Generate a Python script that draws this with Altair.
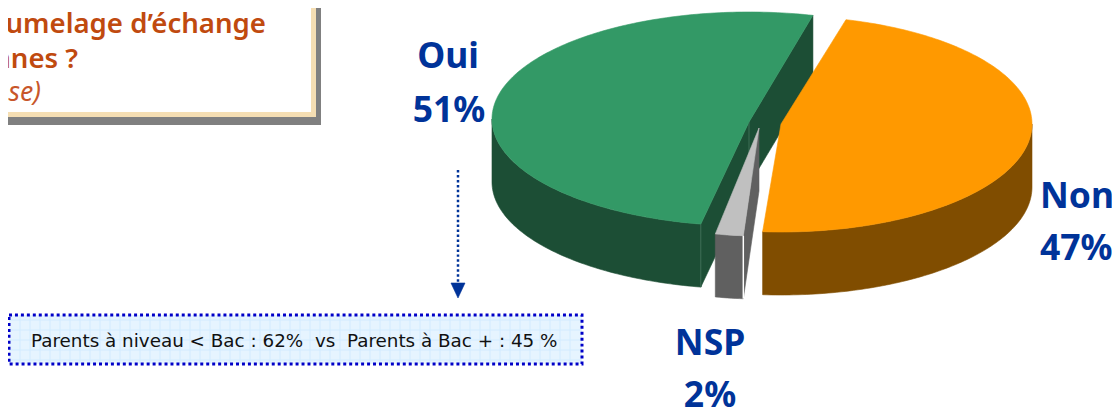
import math
import altair as alt
import pandas as pd

# --- values ---
labels = ["Non", "NSP", "Oui"]
shares = [47, 2, 51]
pct_text = ["47%", "2%", "51%"]
top_col = ["#FF9900", "#C0C0C0", "#339966"]
wall_col = ["#804D00", "#606060", "#1C4E35"]
start_deg = [15.0, 184.0, 190.8]          # clockwise from the top of the ellipse
centre_x = [781, 759, 749]
centre_y = [124, 128, 119]
radius_x = [251, 225, 257]
radius_y = [108, 108, 107]
apex_y = [124, 128, 122]
depth = 63

title_lines = ["umelage d\u2019\u00e9change", "nnes ?", "nse)"]
note_text = "Parents \u00e0 niveau < Bac : 62%\u00a0\u00a0vs\u00a0\u00a0Parents \u00e0 Bac + : 45 %"
grid_x = list(range(20, 580, 10))
grid_y = list(range(320, 364, 10))

BLUE = "#003399"
W, H = 1112, 404
K = 1104 / 1112          # the page shrinks the picture to the 1104px body
OX, OY = 8, 9.45
X = alt.X("x:Q", scale=alt.Scale(domain=[OX, OX + W * K], range=[0, W]), axis=None)
Y = alt.Y("y:Q", scale=alt.Scale(domain=[OY, OY + H * K], range=[0, H]), axis=None)
X2 = alt.X2("x2:Q")
Y2 = alt.Y2("y2:Q")


def pt(i, deg, drop=0):
    a = math.radians(deg)
    return (centre_x[i] + radius_x[i] * math.sin(a),
            centre_y[i] - radius_y[i] * math.cos(a) + drop)


def poly(points, fill, stroke=None, sw=0.6):
    df = pd.DataFrame({"x": [p[0] for p in points],
                       "y": [p[1] for p in points],
                       "i": list(range(len(points)))})
    return alt.Chart(df).mark_line(
        fill=fill, stroke=stroke or fill, strokeWidth=sw,
        interpolate="linear-closed", clip=False
    ).encode(x=X, y=Y, order="i:Q")


def span(i):
    return start_deg[i], start_deg[i] + shares[i] * 3.6


def arc(i, a, b, drop=0):
    n = max(2, int(abs(b - a)) + 1)
    return [pt(i, a + (b - a) * k / (n - 1), drop) for k in range(n)]


def top(i):
    a, b = span(i)
    return poly([(centre_x[i], apex_y[i])] + arc(i, a, b), top_col[i])


def wall(i):
    a, b = span(i)
    a2, b2 = max(a, 90), min(b, 270)
    return poly(arc(i, a2, b2) + arc(i, b2, a2, depth), wall_col[i])


def rect(x, x2, y, y2, fill, **kw):
    df = pd.DataFrame({"x": [x], "x2": [x2], "y": [y], "y2": [y2]})
    return alt.Chart(df).mark_rect(fill=fill, clip=False, **kw).encode(x=X, x2=X2, y=Y, y2=Y2)


def text(s, x, y, size, color, align="left", weight=400, style="normal", font="Noto Sans"):
    df = pd.DataFrame({"x": [x], "y": [y], "t": [s]})
    return alt.Chart(df).mark_text(
        font=font, fontSize=size * K, color=color, align=align, baseline="alphabetic",
        fontWeight=weight, fontStyle=style, clip=False
    ).encode(x=X, y=Y, text="t:N")


def vline(x, y, y2, color, width=1, dash=None):
    df = pd.DataFrame({"x": [x, x], "y": [y, y2], "i": [0, 1]})
    kw = {"strokeDash": dash} if dash else {}
    return alt.Chart(df).mark_line(color=color, strokeWidth=width, clip=False, **kw).encode(x=X, y=Y, order="i:Q")


grid_v = alt.Chart(pd.DataFrame({"x": grid_x, "y": [316] * len(grid_x), "y2": [363] * len(grid_x)})).mark_rule(
    color="#D3ECFF", strokeWidth=1, clip=False).encode(x=X, y=Y, y2=Y2)
grid_h = alt.Chart(pd.DataFrame({"y": grid_y, "x": [10] * len(grid_y), "x2": [581] * len(grid_y)})).mark_rule(
    color="#D3ECFF", strokeWidth=1, clip=False).encode(x=X, x2=X2, y=Y)

NON, NSP, OUI = 0, 1, 2
apex = (centre_x[OUI], apex_y[OUI])
o_a, o_b = span(OUI)
o_start, o_end = pt(OUI, o_a), pt(OUI, o_b)
g_a, g_b = span(NSP)
g_apex = (centre_x[NSP], apex_y[NSP])
g_r = pt(NSP, g_a)

layers = [
    # title box
    rect(-20, 321, -20, 125, "#808080"),
    rect(-20, 316, -20, 117, "#F5DEB3"),
    rect(-20, 311, -20, 112, "#FFFFFF"),
    text(title_lines[0], 266, 33, 28, "#C04A0F", "right", weight=600),
    text(title_lines[1], 78, 68, 28, "#C04A0F", "right", weight=600),
    text(title_lines[2], 41, 101, 27, "#C8562A", "right", style="italic"),
    # note box and arrow
    rect(9, 582, 315, 364, "#E6F4FF"),
    grid_v,
    grid_h,
    rect(9, 582, 315, 364, "transparent", stroke="#0000C8", strokeWidth=3, strokeDash=[3, 3]),
    text(note_text, 31, 347, 18.6, "#111111", font="DejaVu Sans"),
    vline(458, 170, 284, BLUE, 2.5, [2.5, 2.5]),
    poly([(451, 283), (465, 283), (458, 298)], BLUE),
    # green slice: cut faces, outer wall, top
    poly([o_end, apex, (apex[0], apex[1] + depth), (o_end[0], o_end[1] + depth)], wall_col[OUI]),
    poly([apex, o_start, (o_start[0], o_start[1] + depth), (apex[0], apex[1] + depth)], wall_col[OUI]),
    wall(OUI),
    vline(apex[0], apex[1], apex[1] + depth, "#3E6F57"),
    vline(o_start[0], o_start[1], o_start[1] + depth, "#3E6F57"),
    top(OUI),
    # grey slice
    poly([g_apex, g_r, (g_r[0], g_r[1] + depth), (g_apex[0], g_apex[1] + depth)], wall_col[NSP]),
    wall(NSP),
    top(NSP),
    vline(g_r[0], g_r[1], g_r[1] + depth, "#FFFFFF", 1.5),
    # orange slice
    wall(NON),
    top(NON),
    # labels
    text(labels[OUI], 448, 68, 36, BLUE, "center", 700),
    text(pct_text[OUI], 449, 122, 36, BLUE, "center", 700),
    text(labels[NON], 1040, 208, 36, BLUE, "left", 700),
    text(pct_text[NON], 1040, 260, 36, BLUE, "left", 700),
    text(labels[NSP], 710, 355, 36, BLUE, "center", 700),
    text(pct_text[NSP], 710, 407, 36, BLUE, "center", 700),
]

chart = alt.layer(*layers).properties(
    width=W, height=H, padding=0,
    autosize=alt.AutoSizeParams(type="none"),
    background="#FFFFFF",
).configure_view(stroke=None)

chart.save("out.html", embed_options={"renderer": "svg", "actions": False})
